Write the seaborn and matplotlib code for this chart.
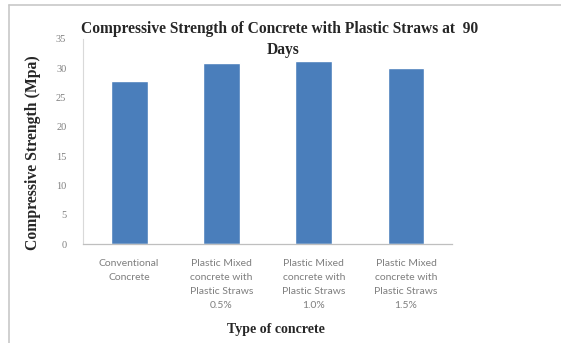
import matplotlib
matplotlib.use("Agg")
import matplotlib.pyplot as plt
from matplotlib.lines import Line2D
import seaborn as sns
import pandas as pd

# Data
categories = [
    "Conventional\nConcrete",
    "Plastic Mixed\nconcrete with\nPlastic Straws\n0.5%",
    "Plastic Mixed\nconcrete with\nPlastic Straws\n1.0%",
    "Plastic Mixed\nconcrete with\nPlastic Straws\n1.5%",
]
strength = [27.9, 30.9, 31.3, 30.0]
y_ticks = [0, 5, 10, 15, 20, 25, 30, 35]

title_line1 = "Compressive Strength of Concrete with Plastic Straws at  90"
title_line2 = "Days"
x_label = "Type of concrete"
y_label = "Compressive Strength (Mpa)"

df = pd.DataFrame({"category": categories, "strength": strength})

sns.set_theme(style="white")
serif = ["Liberation Serif", "DejaVu Serif"]
sans = ["Lato", "DejaVu Sans"]

fig = plt.figure(figsize=(5.61, 3.43), dpi=100)
ax = fig.add_axes([0.148, 0.2886, 0.658, 0.5977])

sns.barplot(data=df, x="category", y="strength", color="#4a7ebb",
            saturation=1, width=0.4, ax=ax)

ax.set_ylim(0, 35)
ax.set_yticks(y_ticks)
ax.set_yticklabels([str(t) for t in y_ticks], family=serif, fontsize=7.5,
                   color="#808080")
ax.set_xticklabels(categories, family=sans, fontsize=7.5, color="#7f7f7f",
                   linespacing=1.7, va="top")
ax.tick_params(axis="y", length=0, pad=12)
ax.tick_params(axis="x", length=0, pad=11)
ax.set_xlabel("")
ax.set_ylabel("")

for s in ["top", "right"]:
    ax.spines[s].set_visible(False)
ax.spines["left"].set_color("#d9d9d9")
ax.spines["left"].set_linewidth(0.8)
ax.spines["bottom"].set_color("#bfbfbf")
ax.spines["bottom"].set_linewidth(0.9)

title_kw = dict(ha="center", va="center", family=serif, fontweight="bold",
                fontsize=11.2, color="#262626")
fig.text(280 / 561, 1 - 29 / 343, title_line1, **title_kw)
fig.text(283 / 561, 1 - 50 / 343, title_line2, **title_kw)
fig.text(276 / 561, 1 - 330 / 343, x_label, ha="center", va="center",
         family=serif, fontweight="bold", fontsize=10, color="#262626")
fig.text(33 / 561, 1 - 153 / 343, y_label, ha="center", va="center",
         rotation=90, family=serif, fontweight="bold", fontsize=11.3,
         color="#262626")

# Frame around the chart area
fig.add_artist(Line2D([9 / 561, 1], [1 - 5 / 343, 1 - 5 / 343],
                      transform=fig.transFigure, color="#c8c8c8", lw=1.2))
fig.add_artist(Line2D([9 / 561, 9 / 561], [0, 1 - 5 / 343],
                      transform=fig.transFigure, color="#c8c8c8", lw=1.2))

fig.savefig("out.png", dpi=100)
